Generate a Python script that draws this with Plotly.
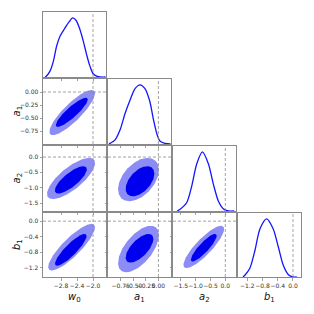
import numpy as np
import plotly.graph_objects as go

# ---------------- data ----------------
params = ["w0", "a1", "a2", "b1"]
titles = ["<i>w</i><sub>0</sub>", "<i>a</i><sub>1</sub>", "<i>a</i><sub>2</sub>", "<i>b</i><sub>1</sub>"]
truth = [-2.0, 0.0, 0.0, 0.0]
ranges = [[-3.25, -1.675], [-1.0, 0.25], [-1.76, 0.36], [-1.44, 0.21]]
tickvals = [[-2.8, -2.4, -2.0], [-0.75, -0.5, -0.25, 0.0], [-1.5, -1.0, -0.5, 0.0], [-1.2, -0.8, -0.4, 0.0]]
ticktext = [["−2.8", "−2.4", "−2.0"], ["−0.75", "−0.50", "−0.25", "0.00"],
            ["−1.5", "−1.0", "−0.5", "0.0"], ["−1.2", "−0.8", "−0.4", "0.0"]]

# 1D marginal densities (normalised to peak = 1)
w0_x = [-3.2, -3.175, -3.075, -2.99, -2.91, -2.825, -2.70, -2.59, -2.51, -2.425, -2.325, -2.24, -2.16, -2.075, -1.99, -1.87, -1.69]
w0_d = [0.0, 0.01, 0.10, 0.27, 0.52, 0.69, 0.83, 0.94, 1.0, 0.96, 0.80, 0.60, 0.38, 0.18, 0.05, 0.005, 0.0]
a1_x = [-0.98, -0.96, -0.86, -0.76, -0.66, -0.56, -0.46, -0.365, -0.27, -0.17, -0.10, -0.03, 0.03, 0.13, 0.24]
a1_d = [0.0, 0.01, 0.07, 0.24, 0.52, 0.75, 0.94, 1.0, 0.94, 0.72, 0.42, 0.17, 0.05, 0.01, 0.0]
a2_x = [-1.62, -1.52, -1.30, -1.13, -0.96, -0.77, -0.57, -0.40, -0.235, -0.07, 0.10, 0.30]
a2_d = [0.0, 0.03, 0.14, 0.42, 0.80, 1.0, 0.80, 0.45, 0.17, 0.04, 0.0, 0.0]
b1_x = [-1.31, -1.26, -1.13, -0.995, -0.864, -0.69, -0.52, -0.385, -0.254, -0.12, 0.0, 0.10]
b1_d = [0.0, 0.03, 0.15, 0.46, 0.83, 1.0, 0.83, 0.52, 0.20, 0.04, 0.0, 0.0]
curves_x = [w0_x, a1_x, a2_x, b1_x]
curves_d = [w0_d, a1_d, a2_d, b1_d]

# 2D contours: (column param, row param) with centre, half extents and correlation
pair_col = [0, 0, 0, 1, 1, 2]
pair_row = [1, 2, 3, 2, 3, 3]
outer_cx = [-2.52, -2.55, -2.535, -0.395, -0.395, -0.725]
outer_cy = [-0.395, -0.70, -0.67, -0.735, -0.72, -0.665]
outer_hx = [0.57, 0.60, 0.585, 0.405, 0.405, 0.685]
outer_hy = [0.435, 0.67, 0.60, 0.705, 0.60, 0.545]
outer_rho = [0.85, 0.75, 0.85, 0.45, 0.60, 0.85]
inner_cx = [-2.53, -2.555, -2.555, -0.365, -0.375, -0.725]
inner_cy = [-0.39, -0.745, -0.74, -0.79, -0.70, -0.685]
inner_hx = [0.40, 0.40, 0.395, 0.285, 0.275, 0.435]
inner_hy = [0.28, 0.445, 0.41, 0.49, 0.37, 0.355]
inner_rho = [0.88, 0.78, 0.87, 0.50, 0.65, 0.87]

# ---------------- layout geometry ----------------
W = 314
col_px = [(43, 106), (108, 171), (173, 236), (238, 301)]
row_px = [(12, 77), (79, 144), (146, 211), (213, 277)]

OUTER = "rgb(140,140,246)"
INNER = "rgb(0,0,238)"
LINE = "rgb(20,20,255)"
FRAME = "#8a8a8a"
DASH = "#8a8a8a"
TICKFONT = dict(family="DejaVu Sans", size=6, color="#333")

fig = go.Figure()
layout = {}
shapes = []
annotations = []


def ellipse(cx, cy, hx, hy, rho):
    t = np.linspace(0, 2 * np.pi, 181)
    x = cx + hx * np.cos(t)
    y = cy + hy * (rho * np.cos(t) + np.sqrt(1 - rho ** 2) * np.sin(t))
    return x, y


DASHSTYLE = dict(color=DASH, width=0.8, dash="3px,2px")

k = 0
for i in range(4):
    for j in range(i + 1):
        k += 1
        xa = "x" if k == 1 else f"x{k}"
        ya = "y" if k == 1 else f"y{k}"
        xkey = "xaxis" if k == 1 else f"xaxis{k}"
        ykey = "yaxis" if k == 1 else f"yaxis{k}"
        xd = [col_px[j][0] / W, col_px[j][1] / W]
        yd = [1 - row_px[i][1] / W, 1 - row_px[i][0] / W]
        common = dict(showgrid=False, zeroline=False, showline=True, mirror=True,
                      linecolor=FRAME, linewidth=1, ticks="outside", ticklen=2.5,
                      tickcolor=FRAME, tickwidth=0.8, tickfont=TICKFONT)
        layout[xkey] = dict(common, domain=xd, anchor=ya, range=ranges[j],
                            tickvals=tickvals[j], ticktext=ticktext[j], tickangle=0,
                            showticklabels=(i == 3))
        if i == j:
            layout[ykey] = dict(common, domain=yd, anchor=xa, range=[0, 1.1],
                                showticklabels=False, ticks="")
            fig.add_trace(go.Scatter(x=curves_x[j], y=curves_d[j], mode="lines",
                                     line=dict(color=LINE, width=1.3, shape="spline", smoothing=0.8),
                                     xaxis=xa, yaxis=ya, hoverinfo="skip"))
            shapes.append(dict(type="line", xref=xa, yref=f"{ya} domain", x0=truth[j], x1=truth[j],
                               y0=0, y1=1, line=DASHSTYLE))
        else:
            layout[ykey] = dict(common, domain=yd, anchor=xa, range=ranges[i],
                                tickvals=tickvals[i], ticktext=ticktext[i], tickangle=0,
                                showticklabels=(j == 0))
            p = [n for n in range(6) if pair_col[n] == j and pair_row[n] == i][0]
            ex, ey = ellipse(outer_cx[p], outer_cy[p], outer_hx[p], outer_hy[p], outer_rho[p])
            fig.add_trace(go.Scatter(x=ex, y=ey, mode="lines", fill="toself", fillcolor=OUTER,
                                     line=dict(width=0, color=OUTER), xaxis=xa, yaxis=ya, hoverinfo="skip"))
            ex, ey = ellipse(inner_cx[p], inner_cy[p], inner_hx[p], inner_hy[p], inner_rho[p])
            fig.add_trace(go.Scatter(x=ex, y=ey, mode="lines", fill="toself", fillcolor=INNER,
                                     line=dict(width=0, color=INNER), xaxis=xa, yaxis=ya, hoverinfo="skip"))
            shapes.append(dict(type="line", xref=xa, yref=f"{ya} domain", x0=truth[j], x1=truth[j],
                               y0=0, y1=1, line=DASHSTYLE, layer="above"))
            shapes.append(dict(type="line", xref=f"{xa} domain", yref=ya, x0=0, x1=1,
                               y0=truth[i], y1=truth[i], line=DASHSTYLE, layer="above"))

# axis titles
for j in range(4):
    cx = (col_px[j][0] + col_px[j][1]) / 2 / W
    annotations.append(dict(text=titles[j], x=cx, y=1 - 297 / W, xref="paper", yref="paper",
                            showarrow=False, font=dict(family="DejaVu Sans", size=10, color="#111"),
                            xanchor="center", yanchor="middle"))
for i in range(1, 4):
    cy = 1 - (row_px[i][0] + row_px[i][1]) / 2 / W
    annotations.append(dict(text=titles[i], x=17 / W, y=cy, xref="paper", yref="paper",
                            showarrow=False, textangle=-90,
                            font=dict(family="DejaVu Sans", size=10, color="#111"),
                            xanchor="center", yanchor="middle"))

fig.update_layout(width=W, height=W, margin=dict(l=0, r=0, t=0, b=0),
                  paper_bgcolor="white", plot_bgcolor="white", showlegend=False,
                  hovermode=False, shapes=shapes, annotations=annotations, **layout)

fig.write_html("out.html", config={"displayModeBar": False, "staticPlot": True},
               post_script="document.body.style.margin='0';document.body.style.overflow='hidden';")
